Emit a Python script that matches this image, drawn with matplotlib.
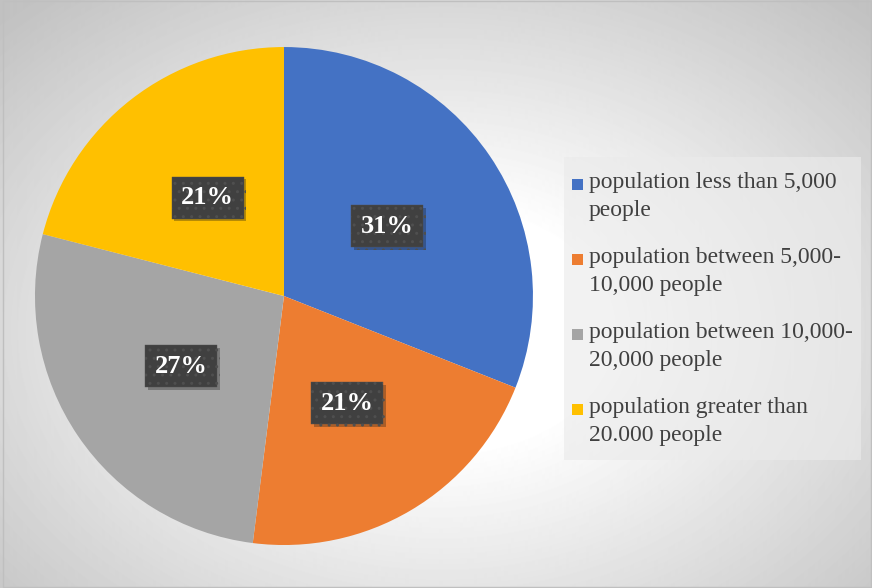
import numpy as np
import matplotlib.pyplot as plt
from matplotlib import patheffects as pe
from matplotlib.patches import Rectangle

W, H = 872, 588

# data
categories = ['population less than 5,000\npeople',
              'population between 5,000-\n10,000 people',
              'population between 10,000-\n20,000 people',
              'population greater than\n20.000 people']
shares = [31, 21, 27, 21]
colors = ['#4472C4', '#ED7D31', '#A5A5A5', '#FFC000']

fig = plt.figure(figsize=(W / 100, H / 100), dpi=100)

# background with a soft radial shade, works in pixel coords (y down)
bg = fig.add_axes([0, 0, 1, 1])
bg.axis('off')
yy, xx = np.mgrid[0:H, 0:W]
r = np.sqrt(((xx - 440) / 560.0) ** 2 + ((yy - 330) / 400.0) ** 2)
shade = 1 - 0.24 * np.clip((r - 0.3) / 0.8, 0, 1)
bg.imshow(shade, cmap='gray', vmin=0, vmax=1, extent=[0, W, H, 0], aspect='auto')
bg.set_xlim(0, W)
bg.set_ylim(H, 0)
bg.add_patch(Rectangle((3, 1), W - 4, H - 2, fill=False, ec='#bfbfbf', lw=1))

# pie
ax = fig.add_axes([0.0401, 0.0731, 0.5711, 0.8469])
wedges, texts, autotexts = ax.pie(shares, colors=colors, startangle=90,
                                  counterclock=False, autopct='%1.0f%%',
                                  pctdistance=0.5, radius=1)
ax.set_xlim(-1, 1)
ax.set_ylim(-1, 1)
ax.axis('off')

for t in autotexts:
    t.set(fontfamily='Liberation Serif', fontweight='bold', fontsize=19, color='white')
    t.set_bbox(dict(boxstyle='square,pad=0.36', fc='#404040', ec='#4f4f4f', lw=0.3, hatch='..'))
    t.get_bbox_patch().set_path_effects([pe.SimplePatchShadow(offset=(2, -2), alpha=0.3),
                                         pe.Normal()])

# legend, drawn by hand so the marker sits on the first line
bg.add_patch(Rectangle((564, 157), 297, 303, fc='#ebebeb', alpha=0.65, ec='none'))
for i, (lab, c) in enumerate(zip(categories, colors)):
    y0 = 185 + i * 75
    bg.add_patch(Rectangle((572, y0 - 6), 11, 11, fc=c, ec='none'))
    bg.text(589, y0 - 13, lab, va='top', ha='left', fontsize=17,
            fontfamily='Liberation Serif', color='#404040', linespacing=1.42)

plt.savefig('out.png', dpi=100)
